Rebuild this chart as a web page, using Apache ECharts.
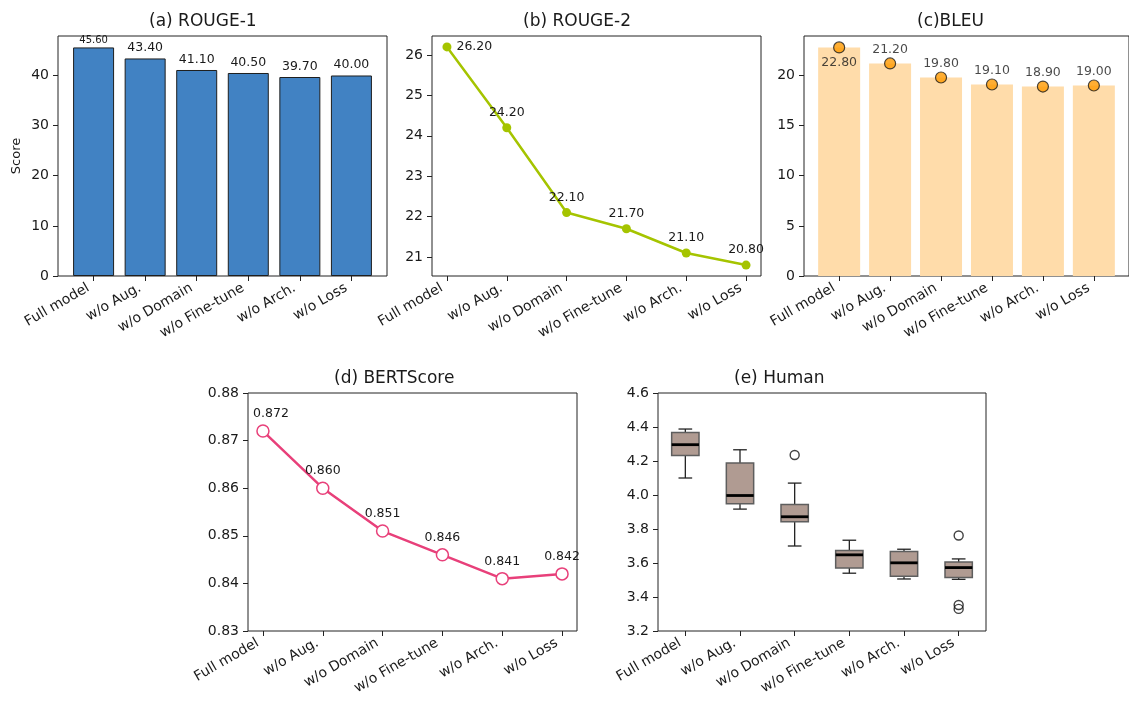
<!DOCTYPE html>
<html>
<head>
<meta charset="utf-8">
<script src="https://cdn.jsdelivr.net/npm/echarts@6/dist/echarts.min.js"></script>
<style>html,body{margin:0;padding:0;background:#fff;}#c{width:1129px;height:706px;}</style>
</head>
<body>
<div id="c"></div>
<script>
const categories = ['Full model', 'w/o Aug.', 'w/o Domain', 'w/o Fine-tune', 'w/o Arch.', 'w/o Loss'];
const rouge1 = [45.60, 43.40, 41.10, 40.50, 39.70, 40.00];
const rouge2 = [26.20, 24.20, 22.10, 21.70, 21.10, 20.80];
const bleu = [22.80, 21.20, 19.80, 19.10, 18.90, 19.00];
const bertscore = [0.872, 0.860, 0.851, 0.846, 0.841, 0.842];
// human box stats: [min whisker, Q1, median, Q3, max whisker]
const humanBoxes = [
  [4.10, 4.233, 4.296, 4.368, 4.388],
  [3.917, 3.948, 3.997, 4.188, 4.266],
  [3.70, 3.842, 3.872, 3.944, 4.07],
  [3.540, 3.571, 3.648, 3.673, 3.734],
  [3.506, 3.522, 3.601, 3.667, 3.681],
  [3.504, 3.514, 3.573, 3.606, 3.624]
];
const humanOutliers = [[2, 4.235], [5, 3.762], [5, 3.353], [5, 3.330]];
const ticksA = [0, 10, 20, 30, 40];
const ticksB = [21, 22, 23, 24, 25, 26];
const ticksC = [0, 5, 10, 15, 20];
const ticksD = [0.83, 0.84, 0.85, 0.86, 0.87, 0.88];
const ticksE = [3.2, 3.4, 3.6, 3.8, 4.0, 4.2, 4.4, 4.6];
const catIdx = [0, 1, 2, 3, 4, 5];

const FONT = 'DejaVu Sans';
const TXT = '#1a1a1a';
const FS = 14;
const LFS = 12.5;
const chart = echarts.init(document.getElementById('c'), null, {renderer: 'canvas'});

function grid(left, top, width, height) {
  return {left, top, width, height, show: true, borderColor: '#222', borderWidth: 1, backgroundColor: 'transparent', containLabel: false};
}
function xAx(gi, min, max) {
  return {
    type: 'value', gridIndex: gi, min, max,
    axisLine: {show: false, onZero: false}, splitLine: {show: false},
    axisTick: {show: true, inside: false, length: 5, lineStyle: {color: '#222', width: 1}, customValues: catIdx},
    axisLabel: {show: true, rotate: 30, margin: 8, padding: [0, 6, 0, 0], fontSize: FS, fontFamily: FONT, color: TXT,
      customValues: catIdx, formatter: v => categories[Math.round(v)]}
  };
}
function yAx(gi, min, max, ticks, dec, extra) {
  return Object.assign({
    type: 'value', gridIndex: gi, min, max,
    axisLine: {show: false, onZero: false}, splitLine: {show: false},
    axisTick: {show: true, inside: false, length: 5, lineStyle: {color: '#222', width: 1}, customValues: ticks},
    axisLabel: {show: true, margin: 9, fontSize: FS, fontFamily: FONT, color: TXT,
      customValues: ticks, formatter: v => (dec === null ? String(Math.round(v)) : v.toFixed(dec))}
  }, extra || {});
}
const lblStyle = {fontSize: LFS, fontFamily: FONT, color: TXT};

const option = {
  animation: false,
  backgroundColor: '#fff',
  title: [
    {text: '(a) ROUGE-1', left: 149, top: 13},
    {text: '(b) ROUGE-2', left: 523, top: 13},
    {text: '(c)BLEU', left: 917, top: 13},
    {text: '(d) BERTScore', left: 334, top: 370},
    {text: '(e) Human', left: 734, top: 370}
  ].map(t => Object.assign(t, {padding: 0, textStyle: {fontSize: 17, fontWeight: 'normal', fontFamily: FONT, color: TXT}})),
  grid: [
    grid(58, 36, 329, 240),
    grid(432, 36, 329, 240),
    grid(804, 36, 329, 240),
    grid(248, 393, 329, 238),
    grid(658, 393, 328, 238)
  ],
  xAxis: [
    xAx(0, -0.69, 5.69),
    xAx(1, -0.25, 5.25),
    xAx(2, -0.69, 5.69),
    xAx(3, -0.25, 5.25),
    xAx(4, -0.5, 5.5)
  ],
  yAxis: [
    yAx(0, 0, 47.88, ticksA, null, {name: 'Score', nameLocation: 'middle', nameRotate: 90, nameGap: 35,
      nameTextStyle: {fontSize: 13, fontFamily: FONT, color: TXT}}),
    yAx(1, 20.53, 26.47, ticksB, null),
    yAx(2, 0, 23.94, ticksC, null),
    yAx(3, 0.83, 0.88, ticksD, 2),
    yAx(4, 3.2, 4.6, ticksE, 1)
  ],
  series: [
    {
      type: 'bar', xAxisIndex: 0, yAxisIndex: 0, barWidth: 41,
      data: rouge1.map((v, i) => i === 0
        ? {value: [i, v], label: {fontSize: 10, distance: 2}}
        : [i, v]),
      itemStyle: {color: '#4182c3', borderColor: '#1e1e1e', borderWidth: 1},
      label: Object.assign({show: true, position: 'top', distance: 4, formatter: p => p.value[1].toFixed(2)}, lblStyle)
    },
    {
      type: 'line', xAxisIndex: 1, yAxisIndex: 1,
      data: rouge2.map((v, i) => i === 0
        ? {value: [i, v], label: {position: 'right', distance: 5}}
        : [i, v]),
      lineStyle: {color: '#a5c400', width: 2.5},
      itemStyle: {color: '#a5c400'},
      symbol: 'circle', symbolSize: 9,
      label: Object.assign({show: true, position: 'top', distance: 4, formatter: p => p.value[1].toFixed(2)}, lblStyle)
    },
    {
      type: 'bar', xAxisIndex: 2, yAxisIndex: 2, barWidth: 42,
      data: bleu.map((v, i) => [i, v]),
      itemStyle: {color: '#ffdcaa'}
    },
    {
      type: 'scatter', xAxisIndex: 2, yAxisIndex: 2,
      data: bleu.map((v, i) => i === 0
        ? {value: [i, v], label: {position: 'bottom', distance: 3}}
        : [i, v]),
      symbol: 'circle', symbolSize: 11,
      itemStyle: {color: '#ff9a00', borderColor: '#1a1a1a', borderWidth: 1.2},
      label: Object.assign({show: true, position: 'top', distance: 1, formatter: p => p.value[1].toFixed(2)}, lblStyle),
      z: 3
    },
    {
      type: 'line', xAxisIndex: 3, yAxisIndex: 3,
      data: bertscore.map((v, i) => i === 0
        ? {value: [i, v], label: {offset: [8, 0]}}
        : [i, v]),
      lineStyle: {color: '#e8407a', width: 2.5},
      itemStyle: {color: '#ffffff', borderColor: '#e8407a', borderWidth: 1.5},
      symbol: 'circle', symbolSize: 12,
      label: Object.assign({show: true, position: 'top', distance: 4, formatter: p => p.value[1].toFixed(3)}, lblStyle)
    },
    {
      type: 'custom', xAxisIndex: 4, yAxisIndex: 4,
      data: humanBoxes.map((b, i) => [i].concat(b)),
      encode: {x: 0, y: [1, 2, 3, 4, 5]},
      renderItem: function (params, api) {
        const x = api.value(0);
        const p = [1, 2, 3, 4, 5].map(k => api.coord([x, api.value(k)]));
        const cx = p[0][0];
        const bw = api.size([0.5, 0])[0];
        const cw = bw / 2;
        const ls = {stroke: '#222', lineWidth: 1.3, fill: null};
        return {
          type: 'group',
          children: [
            {type: 'line', shape: {x1: cx, y1: p[0][1], x2: cx, y2: p[1][1]}, style: ls},
            {type: 'line', shape: {x1: cx, y1: p[3][1], x2: cx, y2: p[4][1]}, style: ls},
            {type: 'line', shape: {x1: cx - cw / 2, y1: p[0][1], x2: cx + cw / 2, y2: p[0][1]}, style: ls},
            {type: 'line', shape: {x1: cx - cw / 2, y1: p[4][1], x2: cx + cw / 2, y2: p[4][1]}, style: ls},
            {type: 'rect', shape: {x: cx - bw / 2, y: p[3][1], width: bw, height: p[1][1] - p[3][1]},
              style: {fill: '#b09b92', stroke: '#5e5e5e', lineWidth: 1.5}},
            {type: 'line', shape: {x1: cx - bw / 2, y1: p[2][1], x2: cx + bw / 2, y2: p[2][1]},
              style: {stroke: '#000', lineWidth: 2.8}}
          ]
        };
      }
    },
    {
      type: 'scatter', xAxisIndex: 4, yAxisIndex: 4,
      data: humanOutliers,
      symbol: 'circle', symbolSize: 9,
      itemStyle: {color: 'rgba(255,255,255,0)', borderColor: '#111', borderWidth: 1.4}
    }
  ]
};
chart.setOption(option);
</script>
</body>
</html>
